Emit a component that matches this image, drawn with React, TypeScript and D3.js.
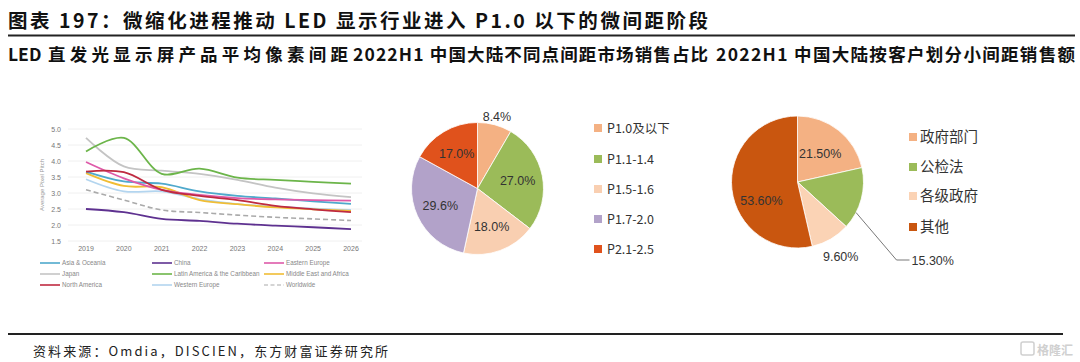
import React from "react";
import * as d3 from "d3";

// ---- line chart data (average pixel pitch, mm) ----
const years = [2019, 2020, 2021, 2022, 2023, 2024, 2025, 2026];
const yTicks = [1.5, 2.0, 2.5, 3.0, 3.5, 4.0, 4.5, 5.0];

const asiaOceania = [3.67, 3.36, 3.29, 3.05, 2.91, 2.83, 2.74, 2.66];
const china = [2.5, 2.4, 2.19, 2.13, 2.04, 1.98, 1.93, 1.87];
const easternEurope = [3.97, 3.46, 3.1, 2.94, 2.84, 2.8, 2.78, 2.76];
const japan = [4.72, 3.83, 3.7, 3.6, 3.41, 3.17, 2.99, 2.87];
const latinAmerica = [4.3, 4.72, 3.6, 3.76, 3.48, 3.41, 3.35, 3.29];
const middleEastAfrica = [3.62, 3.22, 3.18, 2.78, 2.65, 2.55, 2.49, 2.44];
const northAmerica = [3.67, 3.65, 3.1, 2.91, 2.78, 2.6, 2.49, 2.4];
const westernEurope = [3.43, 3.05, 3.05, 2.81, 2.65, 2.58, 2.51, 2.47];
const worldwide = [3.1, 2.78, 2.47, 2.39, 2.31, 2.24, 2.19, 2.14];

const seriesNames = [
  "Asia & Oceania", "China", "Eastern Europe",
  "Japan", "Latin America & the Caribbean", "Middle East and Africa",
  "North America", "Western Europe", "Worldwide",
];
const seriesValues = [
  asiaOceania, china, easternEurope,
  japan, latinAmerica, middleEastAfrica,
  northAmerica, westernEurope, worldwide,
];
const seriesColors = [
  "#4fa9cc", "#5e3190", "#de5aa9",
  "#c4c4c4", "#6cb54a", "#f0bd34",
  "#bf2a40", "#b3d5ef", "#aaaaaa",
];
// drawing order (back to front)
const drawOrder = [3, 8, 7, 5, 0, 2, 6, 4, 1];

// ---- pie 1: pixel pitch share ----
const pitchLabels = ["P1.0及以下", "P1.1-1.4", "P1.5-1.6", "P1.7-2.0", "P2.1-2.5"];
const pitchShares = [8.4, 27.0, 18.0, 29.6, 17.0];
const pitchColors = ["#f4b183", "#9bbb59", "#f9cfb1", "#b2a2c9", "#e0521c"];

// ---- pie 2: customer split ----
const customerLabels = ["政府部门", "公检法", "各级政府", "其他"];
const customerShares = [21.5, 15.3, 9.6, 53.6];
const customerColors = ["#f4b183", "#9bbb59", "#fbd3b5", "#c9560f"];

const cjk = "'Noto Sans CJK SC', 'Noto Sans', sans-serif";
const latin = "'Liberation Sans', Arial, sans-serif";

const LineChart = () => {
  const x = d3.scalePoint<number>().domain(years).range([86, 351]);
  const y = d3.scaleLinear().domain([1.5, 5.0]).range([241, 129]);
  const line = d3
    .line<number>()
    .x((_, i) => x(years[i]) as number)
    .y((d) => y(d))
    .curve(d3.curveCatmullRom.alpha(0.5));

  const legendCols = [40, 152, 264];
  const legendRows = [263, 274, 285];

  return (
    <g>
      {yTicks.map((t) => (
        <g key={t}>
          <line x1={68} x2={362} y1={y(t)} y2={y(t)} stroke="#ececec" strokeWidth={0.8} />
          <text x={61} y={y(t) + 2.5} fontSize={7} fill="#777" textAnchor="end" fontFamily={latin}>
            {t.toFixed(1)}
          </text>
        </g>
      ))}
      {years.map((yr) => (
        <text key={yr} x={x(yr)} y={251} fontSize={7} fill="#777" textAnchor="middle" fontFamily={latin}>
          {yr}
        </text>
      ))}
      <text
        transform={`translate(44,185) rotate(-90)`}
        fontSize={6}
        fill="#999"
        textAnchor="middle"
        fontFamily={latin}
      >
        Average Pixel Pitch
      </text>
      {drawOrder.map((i) => (
        <path
          key={seriesNames[i]}
          d={line(seriesValues[i]) || ""}
          fill="none"
          stroke={seriesColors[i]}
          strokeWidth={i === 8 ? 1.6 : 1.8}
          strokeDasharray={i === 8 ? "5,3" : undefined}
        />
      ))}
      {seriesNames.map((name, i) => {
        const lx = legendCols[i % 3];
        const ly = legendRows[Math.floor(i / 3)];
        return (
          <g key={name}>
            <line
              x1={lx}
              x2={lx + 20}
              y1={ly}
              y2={ly}
              stroke={seriesColors[i]}
              strokeWidth={i === 8 ? 1.2 : 1.6}
              strokeDasharray={i === 8 ? "4,2.5" : undefined}
            />
            <text x={lx + 22} y={ly + 2.2} fontSize={6.3} fill="#888" fontFamily={latin}>
              {name}
            </text>
          </g>
        );
      })}
    </g>
  );
};

const PitchPie = () => {
  const cx = 477.5;
  const cy = 188.5;
  const r = 66;
  const pie = d3.pie<number>().sort(null).value((d) => d);
  const arcs = pie(pitchShares);
  const arc = d3.arc<d3.PieArcDatum<number>>().innerRadius(0).outerRadius(r);
  const labelArc = d3.arc<d3.PieArcDatum<number>>().innerRadius(r * 0.62).outerRadius(r * 0.62);
  const outerArc = d3.arc<d3.PieArcDatum<number>>().innerRadius(r * 1.13).outerRadius(r * 1.13);
  const legendY = [128, 159, 189, 219, 249];
  return (
    <g>
      <g transform={`translate(${cx},${cy})`}>
        {arcs.map((a, i) => (
          <path key={i} d={arc(a) || ""} fill={pitchColors[i]} stroke="#fff" strokeWidth={0.8} />
        ))}
        {arcs.map((a, i) => {
          const [lx, ly] = i === 0 ? outerArc.centroid(a) : labelArc.centroid(a);
          return (
            <text key={i} x={lx} y={ly + 4.5} textAnchor="middle" fontSize={12.5} fill="#333" fontFamily={latin}>
              {pitchShares[i].toFixed(1)}%
            </text>
          );
        })}
      </g>
      {pitchLabels.map((l, i) => (
        <g key={l}>
          <rect x={594} y={legendY[i] - 4} width={8} height={8} fill={pitchColors[i]} />
          <text x={607} y={legendY[i] + 4.5} fontSize={12.5} fill="#333" fontFamily={cjk}>
            {l}
          </text>
        </g>
      ))}
    </g>
  );
};

const CustomerPie = () => {
  const cx = 797.5;
  const cy = 182;
  const r = 66;
  const pie = d3.pie<number>().sort(null).value((d) => d);
  const arcs = pie(customerShares);
  const arc = d3.arc<d3.PieArcDatum<number>>().innerRadius(0).outerRadius(r);
  const labelArc = d3.arc<d3.PieArcDatum<number>>().innerRadius(r * 0.55).outerRadius(r * 0.55);
  const outerArc = d3.arc<d3.PieArcDatum<number>>().innerRadius(r * 1.3).outerRadius(r * 1.3);
  const legendY = [137, 167, 196, 227];

  // leader line for the green slice
  const green = arcs[1];
  const edge = d3.arc<d3.PieArcDatum<number>>().innerRadius(r).outerRadius(r);
  const gMid = (green.startAngle + green.endAngle) / 2;
  const p0 = edge.centroid({ ...green, startAngle: gMid + 0.22, endAngle: gMid + 0.22 });

  return (
    <g>
      <g transform={`translate(${cx},${cy})`}>
        {arcs.map((a, i) => (
          <path key={i} d={arc(a) || ""} fill={customerColors[i]} stroke="#fff" strokeWidth={0.8} />
        ))}
        {arcs.map((a, i) => {
          if (i === 1) return null;
          const [lx, ly] = i === 2 ? outerArc.centroid(a) : labelArc.centroid(a);
          const dy = i === 3 ? 14 : 0;
          return (
            <text key={i} x={lx} y={ly + 4.5 + dy} textAnchor="middle" fontSize={12.5} fill="#333" fontFamily={latin}>
              {customerShares[i].toFixed(2)}%
            </text>
          );
        })}
        <polyline
          points={`${p0[0]},${p0[1]} ${99},${78} ${112},${78}`}
          fill="none"
          stroke="#555"
          strokeWidth={0.8}
        />
        <text x={114} y={82.5} fontSize={12.5} fill="#333" fontFamily={latin}>
          {customerShares[1].toFixed(2)}%
        </text>
      </g>
      {customerLabels.map((l, i) => (
        <g key={l}>
          <rect x={909} y={legendY[i] - 4} width={8} height={8} fill={customerColors[i]} />
          <text x={920} y={legendY[i] + 5} fontSize={14.5} fill="#333" fontFamily={cjk}>
            {l}
          </text>
        </g>
      ))}
    </g>
  );
};

export default function App() {
  return (
    <svg
      width={1080}
      height={362}
      style={{ position: "absolute", left: 0, top: 0, background: "#fff" }}
    >
      <rect width={1080} height={362} fill="#fff" />
      <text x={8} y={28} fontSize={19.5} fontWeight={700} fill="#111" fontFamily={cjk} textLength={700} lengthAdjust="spacing">
        图表 197：微缩化进程推动 LED 显示行业进入 P1.0 以下的微间距阶段
      </text>
      <line x1={8} x2={1075} y1={35.5} y2={35.5} stroke="#222" strokeWidth={2} />
      <text x={8} y={61} fontSize={17.5} fontWeight={700} fill="#111" fontFamily={cjk}>
        LED
      </text>
      <text x={48} y={61} fontSize={17.5} fontWeight={700} fill="#111" fontFamily={cjk} textLength={300} lengthAdjust="spacing">
        直发光显示屏产品平均像素间距
      </text>
      <text x={353} y={61} fontSize={17.5} fontWeight={700} fill="#111" fontFamily={cjk} textLength={355} lengthAdjust="spacing">
        2022H1 中国大陆不同点间距市场销售占比
      </text>
      <text x={716} y={61} fontSize={17.5} fontWeight={700} fill="#111" fontFamily={cjk} textLength={359} lengthAdjust="spacing">
        2022H1 中国大陆按客户划分小间距销售额
      </text>

      <LineChart />
      <PitchPie />
      <CustomerPie />

      <line x1={8} x2={1063} y1={334} y2={334} stroke="#222" strokeWidth={2} />
      <text x={33} y={356} fontSize={13} fill="#222" fontFamily={cjk} textLength={355} lengthAdjust="spacing">
        资料来源：Omdia，DISCIEN，东方财富证券研究所
      </text>
      <g opacity={0.55}>
        <rect x={1021} y={342} width={13} height={13} rx={2} fill="none" stroke="#aaa" strokeWidth={1.5} />
        <text x={1037} y={354.5} fontSize={12} fill="#aaa" fontFamily={cjk} fontWeight={700}>
          格隆汇
        </text>
      </g>
    </svg>
  );
}
